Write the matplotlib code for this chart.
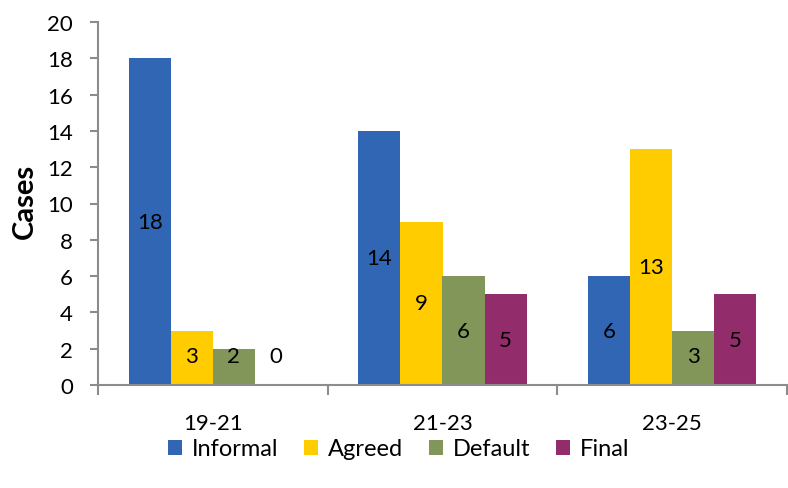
import matplotlib
matplotlib.use("Agg")
import matplotlib.pyplot as plt
from matplotlib.ticker import FixedLocator, NullFormatter, FixedFormatter
import numpy as np

plt.rcParams['font.family'] = ['Lato', 'DejaVu Sans']

periods = ["19-21", "21-23", "23-25"]
series = ["Informal", "Agreed", "Default", "Final"]
informal = [18, 14, 6]
agreed = [3, 9, 13]
default = [2, 6, 3]
final = [0, 5, 5]
colors = ["#3066B3", "#FFCC00", "#82965A", "#932C6A"]

values = [informal, agreed, default, final]

fig = plt.figure(figsize=(7.88, 4.89), dpi=100)
ax = fig.add_axes([98/788, 103/489, 689/788, 363/489])

x = np.arange(len(periods))
w = 0.183
fs = 16
for i, (name, vals, c) in enumerate(zip(series, values, colors)):
    pos = x + (i - 1.5) * w
    ax.bar(pos, vals, w, color=c, label=name)
    for p, v in zip(pos, vals):
        ax.text(p, max(v / 2, 1.6), str(v), ha="center", va="center", fontsize=fs, color="black")

ax.set_xlim(-0.5, 2.5)
ax.set_ylim(0, 20)
ax.set_yticks(range(0, 21, 2))
ax.tick_params(axis="y", labelsize=fs, length=6, width=1.5, color="#8c8c8c", pad=12)

ax.xaxis.set_major_locator(FixedLocator([-0.5, 0.5, 1.5, 2.5]))
ax.xaxis.set_major_formatter(NullFormatter())
ax.xaxis.set_minor_locator(FixedLocator(list(x)))
ax.xaxis.set_minor_formatter(FixedFormatter(periods))
ax.tick_params(axis="x", which="major", length=7, width=1.5, color="#8c8c8c")
ax.tick_params(axis="x", which="minor", length=0, labelsize=fs, pad=20)

for s in ["top", "right"]:
    ax.spines[s].set_visible(False)
for s in ["left", "bottom"]:
    ax.spines[s].set_color("#8c8c8c")
    ax.spines[s].set_linewidth(1.5)

fig.text(25/788, 1 - 201/489, "Cases", rotation=90, ha="center", va="center",
         fontsize=21, fontweight="bold")

fig.legend(loc="center", bbox_to_anchor=(0.506, 1 - 450/489), ncol=4, frameon=False,
           fontsize=17, handlelength=0.6, handleheight=0.6, handletextpad=0.4,
           columnspacing=1.1)

fig.savefig("out.png", dpi=100)
